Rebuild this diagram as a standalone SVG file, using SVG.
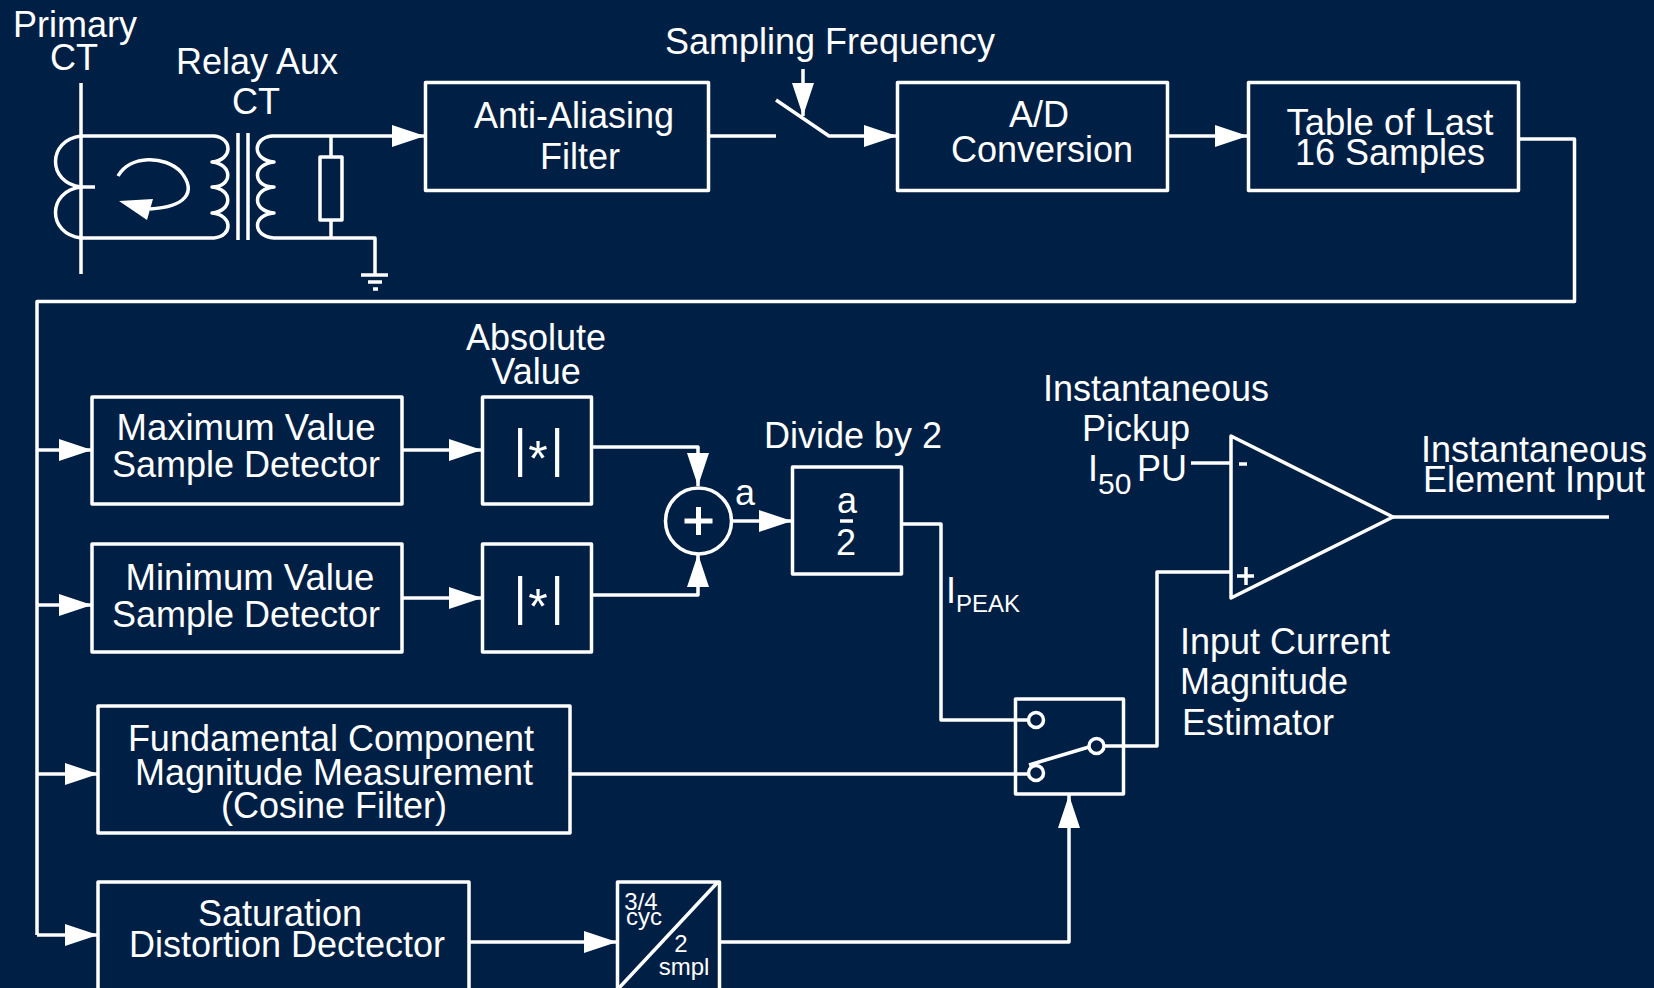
<svg xmlns="http://www.w3.org/2000/svg" width="1654" height="988" viewBox="0 0 1654 988">
<style>
.w{fill:none;stroke:#fff;stroke-width:3.5;stroke-linejoin:round}
.b{fill:#001f44;stroke:#fff;stroke-width:3.5;stroke-linejoin:round}
text{font-family:"Liberation Sans",Arial,sans-serif;font-size:36px;fill:#fff;text-anchor:middle}
.s{font-size:24px}
.l{text-anchor:start}
.p{font-size:51px}
.t{font-size:50px}
.m{font-size:36.5px}
</style>
<defs>
<marker id="a" markerUnits="userSpaceOnUse" markerWidth="34" markerHeight="24" refX="33" refY="11" orient="auto"><path d="M0 0L33 11L0 22Z" fill="#fff"/></marker>
</defs>
<rect width="1654" height="988" fill="#001f44"/>
<g id="connectors">
<path class="w" d="M708 136H776"/>
<path class="w" d="M776 100L829 136H897" marker-end="url(#a)" />
<path class="w" d="M803 69V116" marker-end="url(#a)"/>
<path class="w" d="M1167 136H1248" marker-end="url(#a)"/>
<path class="w" d="M1518 139H1574.500V301.500H37V935"/>
<path class="w" d="M37 450H92" marker-end="url(#a)"/>
<path class="w" d="M37 605H92" marker-end="url(#a)"/>
<path class="w" d="M37 774H98" marker-end="url(#a)"/>
<path class="w" d="M37 935H98" marker-end="url(#a)"/>
<path class="w" d="M402 450H482" marker-end="url(#a)"/>
<path class="w" d="M402 598H482" marker-end="url(#a)"/>
<path class="w" d="M591 447H698V486" marker-end="url(#a)"/>
<path class="w" d="M591 595H698V554" marker-end="url(#a)"/>
<path class="w" d="M732 521H792" marker-end="url(#a)"/>
<path class="w" d="M901 524H941V720H1030"/>
<path class="w" d="M570 774H1030"/>
<path class="w" d="M469 942H617" marker-end="url(#a)"/>
<path class="w" d="M719 942H1069V795" marker-end="url(#a)"/>
<path class="w" d="M1100 746H1157V572H1231"/>
<path class="w" d="M1191 463H1231"/>
<path class="w" d="M1393 517H1609"/>
<path class="w" d="M81 83V274"/>
<path class="w" d="M81 187H95"/>
<path class="w" d="M81 136H214C233 138 233 160 212 162C233 164 233 187 212 187C233 189 233 211 212 213C233 215 233 236 214 238H81"/>
<path class="w" d="M81 136C47 140 47 183 81 187C47 191 47 234 81 238"/>
<path class="w" d="M238 133V240M248 133V240"/>
<path class="w" d="M391 136H272C252 138 252 160 274 162C252 164 252 187 274 187C252 189 252 211 274 213C252 215 252 236 274 238H375V275"/>
<path class="w" d="M331 136V157M331 220V238"/>
<path class="w" d="M361 275H388M368 282H382M373 289H378"/>
<path class="w" d="M391 136H425" marker-end="url(#a)"/>
<path class="w" d="M118 176C130 155 165 155 181 172C197 192 186 207 150 209"/>
<path d="M119 201L153 199L147 220Z" fill="#fff"/>
</g>
<g id="aa"><rect class="b" x="425.500" y="82.500" width="283" height="108"/><text x="574" y="128">Anti-Aliasing</text><text x="580" y="169">Filter</text></g>
<g id="ad"><rect class="b" x="897.500" y="82.500" width="270" height="108"/><text x="1039" y="127">A/D</text><text x="1042" y="162">Conversion</text></g>
<g id="table"><rect class="b" x="1248.500" y="82.500" width="270" height="108"/><text class="m" x="1390" y="135">Table of Last</text><text x="1390" y="165">16 Samples</text></g>
<g id="resistor"><rect class="b" x="320" y="157" width="22" height="63"/></g>
<g id="max"><rect class="b" x="92" y="397" width="310" height="107"/><text class="m" x="246" y="440">Maximum Value</text><text x="246" y="477">Sample Detector</text></g>
<g id="abs1"><rect class="b" x="482.500" y="397" width="109" height="107"/><text class="p"><tspan x="520" y="466">|</tspan><tspan class="t" x="538" y="476">*</tspan><tspan x="557" y="466">|</tspan></text></g>
<g id="min"><rect class="b" x="92" y="544" width="310" height="108"/><text class="m" x="250" y="590">Minimum Value</text><text x="246" y="627">Sample Detector</text></g>
<g id="abs2"><rect class="b" x="482.500" y="544" width="109" height="108"/><text class="p"><tspan x="520" y="614">|</tspan><tspan class="t" x="538" y="624">*</tspan><tspan x="557" y="614">|</tspan></text></g>
<g id="fund"><rect class="b" x="98" y="706" width="472" height="127"/><text x="331" y="751">Fundamental Component</text><text x="334" y="785">Magnitude Measurement</text><text x="334" y="818">(Cosine Filter)</text></g>
<g id="sat"><rect class="b" x="98" y="882" width="371" height="110"/><text x="280" y="926">Saturation</text><text x="287" y="957">Distortion Dectector</text></g>
<g id="delay"><rect class="b" x="617.500" y="882" width="102" height="110"/><path class="w" d="M619 988L717 883"/><text class="s" x="641" y="910">3/4</text><text class="s" x="644" y="925">cyc</text><text class="s" x="681" y="952">2</text><text class="s" x="684" y="975">smpl</text></g>
<g id="sum"><circle class="b" cx="698.500" cy="521" r="33"/><path d="M698.500 507V535M684.500 521H712.500" fill="none" stroke="#fff" stroke-width="5"/></g>
<g id="div"><rect class="b" x="792.500" y="467" width="109" height="107"/><text x="847" y="513">a</text><path class="w" d="M840 521H853"/><text x="846" y="555">2</text></g>
<g id="switch"><rect class="w" x="1015.500" y="699" width="108" height="95"/><circle class="b" cx="1036" cy="720" r="7.500"/><circle class="b" cx="1036" cy="773" r="7.500"/><circle class="b" cx="1096.500" cy="746" r="7.500"/><path class="w" d="M1029 765L1089 747"/></g>
<g id="opamp"><path class="b" d="M1231 436L1393 517L1231 598Z"/><path class="w" d="M1239 464H1247M1237 576H1254M1246 567V585"/></g>
<g id="labels">
<text x="75" y="37">Primary</text><text x="74" y="70">CT</text>
<text x="257" y="74">Relay Aux</text><text x="256" y="114">CT</text>
<text x="830" y="54">Sampling Frequency</text>
<text x="536" y="350">Absolute</text><text x="536" y="384">Value</text>
<text x="853" y="448">Divide by 2</text>
<text x="745" y="505">a</text>
<text class="l" x="946" y="603">I<tspan font-size="24" dy="9">PEAK</tspan></text>
<text x="1156" y="401">Instantaneous</text><text x="1136" y="441">Pickup</text>
<text class="l" x="1088" y="481">I<tspan font-size="30" dy="13">50</tspan><tspan dy="-13" x="1137">PU</tspan></text>
<text x="1534" y="462">Instantaneous</text><text x="1534" y="492">Element Input</text>
<text class="l" x="1180" y="654">Input Current</text><text class="l" x="1180" y="694">Magnitude</text><text class="l" x="1182" y="735">Estimator</text>
</g>
</svg>
